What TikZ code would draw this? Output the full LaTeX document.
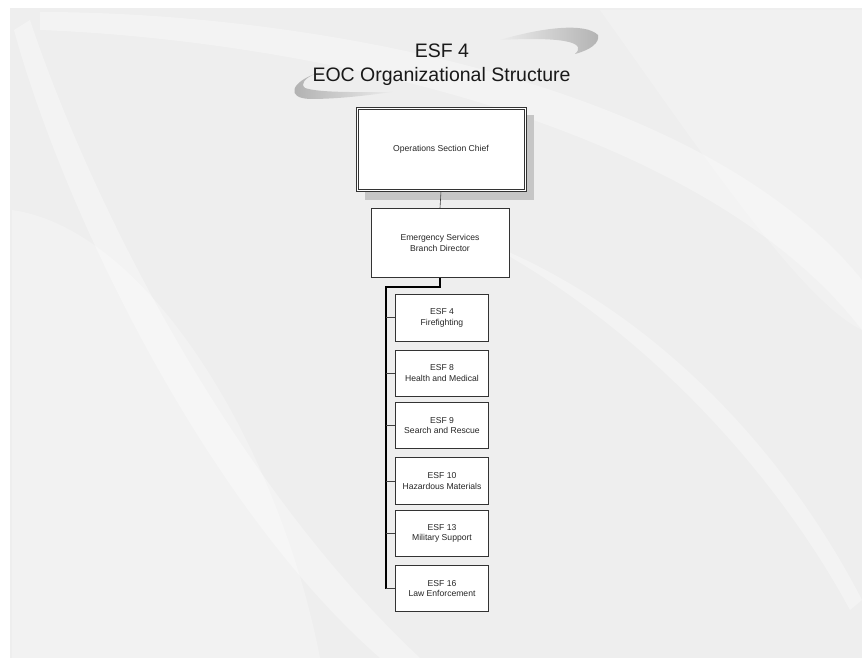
\documentclass[tikz,border=0pt]{standalone}
\usepackage{fontspec}
\setmainfont{Liberation Sans}
\begin{document}
\begin{tikzpicture}[x=1pt,y=-1pt,
  box/.style={draw=black!80, fill=white, line width=0.6pt, align=center,
    font=\fontsize{8.6}{10.5}\selectfont, inner sep=0pt, text=black!85},
  esfbox/.style={box, minimum width=93pt, minimum height=46.5pt},
  link/.style={draw=black!75, line width=0.6pt},
  trunk/.style={draw=black, line width=1.3pt},
  ttl/.style={font=\fontsize{19.5}{22}\selectfont, anchor=base, inner sep=0pt, text=black!90}]
\useasboundingbox (0,0) rectangle (862,671);
% background
\fill[white] (0,0) rectangle (862,671);
\fill[gray!13] (10,8) rectangle (862,658);
\fill[white, opacity=0.3] (40,12) .. controls (300,12) and (700,80) .. (862,280) -- (862,330) .. controls (700,120) and (300,40) .. (40,30) -- cycle;
\fill[white, opacity=0.3] (14,30) .. controls (60,200) and (200,500) .. (380,658) -- (420,658) .. controls (230,480) and (90,200) .. (30,20) -- cycle;
\fill[white, opacity=0.25] (12,210) .. controls (150,230) and (280,450) .. (320,658) -- (12,658) -- cycle;
\fill[white, opacity=0.3] (480,240) .. controls (650,330) and (780,480) .. (850,610) -- (862,600) .. controls (790,460) and (660,310) .. (480,240) -- cycle;
\fill[white, opacity=0.2] (600,10) .. controls (700,150) and (800,300) .. (862,330) -- (862,10) -- cycle;
% title swooshes
\shade[left color=gray!15, right color=gray!60] (500,40) .. controls (540,28) and (585,22) .. (598,35) .. controls (600,43) and (590,50) .. (575,54) .. controls (585,45) and (575,36) .. (500,40) -- cycle;
\shade[left color=gray!65, right color=gray!15] (315,74) .. controls (292,82) and (285,98) .. (310,99) .. controls (340,99) and (370,95) .. (392,92) .. controls (360,92) and (320,93) .. (305,88) .. controls (300,84) and (305,78) .. (315,74) -- cycle;
% title
\node[ttl] (t1) at (442,57.5) {ESF 4};
\node[ttl] (t2) at (441.5,81.5) {EOC Organizational Structure};
% shadow of top box
\fill[gray!45] (365,115) rectangle (534,200);
% nodes
\node[box, minimum width=170pt, minimum height=84pt] (ops) at (441,149) {Operations Section Chief};
\draw[black!80, line width=0.6pt] ([shift={(2.2pt,-2.2pt)}]ops.north west) rectangle ([shift={(-2.2pt,2.2pt)}]ops.south east);
\node[box, minimum width=138pt, minimum height=69pt] (esbd) at (440,243) {Emergency Services\\Branch Director};
\node[esfbox] (e4)  at (442,317.7) {ESF 4\\Firefighting};
\node[esfbox] (e8)  at (442,373.2) {ESF 8\\Health and Medical};
\node[esfbox] (e9)  at (442,425.3) {ESF 9\\Search and Rescue};
\node[esfbox] (e10) at (442,480.8) {ESF 10\\Hazardous Materials};
\node[esfbox] (e13) at (442,533.2) {ESF 13\\Military Support};
\node[esfbox] (e16) at (442,588.5) {ESF 16\\Law Enforcement};
\coordinate (tk) at (386,287);
% connectors
\draw[link] (ops.south) -- (esbd.north);
\draw[trunk] (esbd.south) |- (tk) -- (tk |- e16.west);
\foreach \n in {e4,e8,e9,e10,e13,e16}
  \draw[link] (tk |- \n.west) -- (\n.west);
\end{tikzpicture}
\end{document}
